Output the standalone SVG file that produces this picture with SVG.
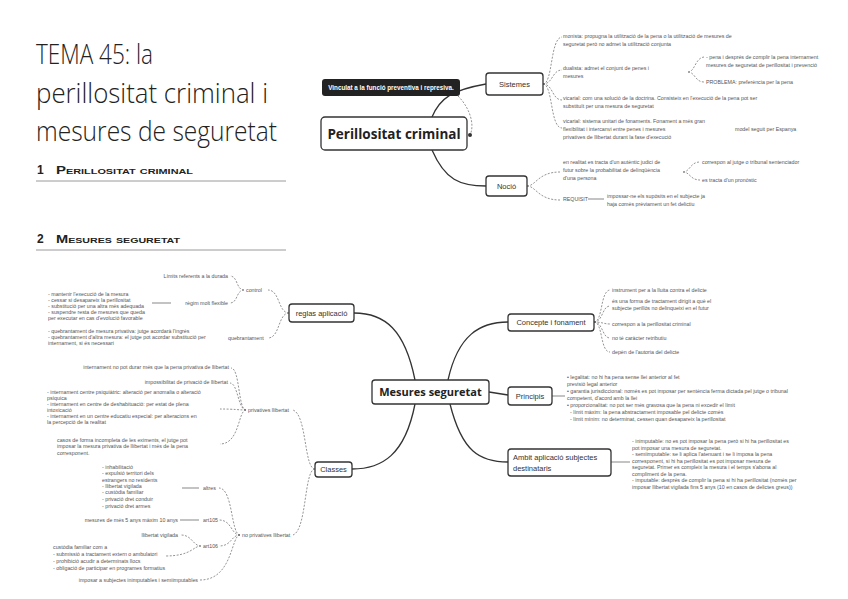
<svg xmlns="http://www.w3.org/2000/svg" width="848" height="599" viewBox="0 0 848 599">
<style>
.bg{fill:#fff}
.ti{font-family:"Open Sans","Liberation Sans",sans-serif;font-weight:300;font-size:28px;fill:#222}
.hd{font-family:"Liberation Sans",Arial,sans-serif;font-weight:bold;font-size:11px;fill:#222;font-variant:small-caps}
.hn{font-family:"Liberation Sans",Arial,sans-serif;font-weight:bold;font-size:12px;fill:#222}
.rule{stroke:#9a9a9a;stroke-width:1}
.t{font-family:"Liberation Sans",Arial,sans-serif;font-size:5.3px;fill:#555}
.box{fill:#fff;stroke:#333;stroke-width:1.3}
.lbl{font-family:"Liberation Sans",Arial,sans-serif;font-size:7.5px;fill:#333}
.main{font-family:"Open Sans","Liberation Sans",sans-serif;font-weight:bold;fill:#222}
.c{fill:none;stroke:#333;stroke-width:1.3}
.s{fill:none;stroke:#555;stroke-width:0.7}
.d{fill:none;stroke:#666;stroke-width:0.7;stroke-dasharray:2 1.5}
</style>
<rect class="bg" x="0" y="0" width="848" height="599"/>

<g id="title">
<text class="ti" x="36" y="64" textLength="117" lengthAdjust="spacingAndGlyphs">TEMA 45: la</text>
<text class="ti" x="36" y="103" textLength="232" lengthAdjust="spacingAndGlyphs">perillositat criminal i</text>
<text class="ti" x="36" y="141" textLength="241" lengthAdjust="spacingAndGlyphs">mesures de seguretat</text>
<text class="hn" x="37" y="174">1</text>
<text class="hd" x="56" y="174" textLength="137" lengthAdjust="spacingAndGlyphs">Perillositat criminal</text>
<line class="rule" x1="36" y1="181" x2="286" y2="181"/>
<text class="hn" x="37" y="243">2</text>
<text class="hd" x="56" y="243" textLength="124" lengthAdjust="spacingAndGlyphs">Mesures seguretat</text>
<line class="rule" x1="36" y1="250" x2="286" y2="250"/>
</g>

<g id="connectors">
<!-- top map -->
<path class="c" d="M432,117 C440,98 452,90 486,84"/>
<path class="c" d="M432,150 C445,180 460,186 486,186"/>
<path class="d" d="M458,96 C470,108 475,125 470,135"/>
<path class="d" d="M543,84 C553,84 550,38 562,37"/>
<path class="d" d="M543,84 C553,84 552,70 562,70"/>
<path class="d" d="M543,84 C553,84 552,100 562,100"/>
<path class="d" d="M543,84 C553,84 550,128 562,128"/>
<path class="d" d="M688,72 C695,72 695,58 704,57"/>
<path class="d" d="M688,72 C695,72 695,82 704,82"/>
<path class="d" d="M527,186 C536,186 538,172 560,172"/>
<path class="d" d="M527,186 C536,186 538,200 560,200"/>
<path class="d" d="M683,172 C690,172 690,162 700,162"/>
<path class="d" d="M683,172 C690,172 690,180 700,180"/>
<line class="s" x1="588" y1="199" x2="604" y2="199"/>
<!-- bottom map -->
<path class="c" d="M415,380 C405,330 385,313 354,313"/>
<path class="c" d="M448,380 C458,335 480,322 508,322"/>
<path class="c" d="M489,392 L508,395"/>
<path class="c" d="M450,404 C462,452 480,462 508,462"/>
<path class="c" d="M415,404 C405,455 382,469 352,469"/>
<path class="d" d="M594,322 C603,322 600,291 610,290"/>
<path class="d" d="M594,322 C603,322 602,306 610,306"/>
<path class="d" d="M594,322 C602,322 604,324 610,324"/>
<path class="d" d="M594,322 C603,322 602,338 610,338"/>
<path class="d" d="M594,322 C603,322 600,352 610,352"/>
<line class="s" x1="552" y1="396" x2="565" y2="396"/>
<line class="s" x1="611" y1="462" x2="630" y2="462"/>
<!-- regles -->
<path class="d" d="M289,313 C278,313 280,290 268,290"/>
<path class="d" d="M289,313 C278,313 280,338 268,338"/>
<path class="d" d="M244,290 C236,290 238,276 230,276"/>
<path class="d" d="M244,290 C236,290 238,303 230,303"/>
<line class="s" x1="152" y1="303" x2="171" y2="303"/>
<!-- classes -->
<path class="d" d="M315,469 C304,469 307,415 293,410"/>
<path class="d" d="M315,469 C304,469 307,530 293,535"/>
<path class="d" d="M246,410 C238,410 240,368 231,368"/>
<path class="d" d="M246,410 C238,410 238,383 230,383"/>
<path class="d" d="M246,410 C238,410 235,409 220,409"/>
<path class="d" d="M246,410 C238,410 240,444 220,444"/>
<path class="d" d="M240,535 C231,535 233,488 219,488"/>
<path class="d" d="M240,535 C231,535 232,520 219,520"/>
<path class="d" d="M240,535 C231,535 232,546 219,546"/>
<path class="d" d="M240,535 C231,535 233,580 200,580"/>
<line class="s" x1="182" y1="488" x2="199" y2="488"/>
<line class="s" x1="180" y1="520" x2="199" y2="520"/>
<path class="d" d="M201,546 C193,546 192,535 181,535"/>
<path class="d" d="M201,546 C193,546 192,556 165,556"/>
</g>

<g id="n-vinculat">
<rect x="322" y="79" width="138" height="17" rx="3" fill="#222"/>
<text x="391" y="90" text-anchor="middle" font-family="Liberation Sans,Arial,sans-serif" font-size="6.3" font-weight="bold" fill="#fff">Vinculat a la funció preventiva i represiva.</text>
</g>
<g id="n-perillositat">
<rect class="box" x="321" y="117" width="146" height="33" rx="4"/>
<text class="main" x="394" y="139" text-anchor="middle" font-size="13.5">Perillositat criminal</text>
<circle cx="470" cy="135" r="2" fill="#333"/>
</g>
<g id="n-sistemes">
<rect class="box" x="486" y="73" width="57" height="22" rx="3"/>
<text class="lbl" x="514.5" y="87" text-anchor="middle">Sistemes</text>
</g>
<g id="n-sistemes-texts">
<text class="t" x="563" y="38">monista: propugna la utilització de la pena o la utilització de mesures de</text>
<text class="t" x="563" y="46">seguretat però no admet la utilització conjunta</text>
<text class="t" x="563" y="70">dualista: admet el conjunt de penes i</text>
<text class="t" x="563" y="78">mesures</text>
<text class="t" x="706" y="59">- pena i després de complir la pena internament</text>
<text class="t" x="706" y="67">mesures de seguretat de perillositat i prevenció</text>
<text class="t" x="706" y="84">PROBLEMA: preferència per la pena</text>
<text class="t" x="563" y="100">vicarial: com una solució de la doctrina. Consisteix en l'execució de la pena pot ser</text>
<text class="t" x="563" y="108">substituït per una mesura de seguretat</text>
<text class="t" x="563" y="123">vicarial: sistema unitari de fonaments. Fonament a més gran</text>
<text class="t" x="563" y="131">flexibilitat i intercanvi entre penes i mesures</text>
<text class="t" x="563" y="139">privatives de llibertat durant la fase d'execució</text>
<text class="t" x="735" y="131">model seguit per Espanya</text>
</g>
<g id="n-nocio">
<rect class="box" x="486" y="176" width="41" height="20" rx="3"/>
<text class="lbl" x="506.5" y="189" text-anchor="middle">Noció</text>
</g>
<g id="n-nocio-texts">
<text class="t" x="563" y="164">en realitat es tracta d'un autèntic judici de</text>
<text class="t" x="563" y="172">futur sobre la probabilitat de delinqüència</text>
<text class="t" x="563" y="180">d'una persona</text>
<text class="t" x="702" y="164">correspon al jutge o tribunal sentenciador</text>
<text class="t" x="702" y="182">es tracta d'un pronòstic</text>
<text class="t" x="563" y="201">REQUISIT</text>
<text class="t" x="607" y="198" font-size="6.5">impossar-ne els supòsits en el subjecte ja</text>
<text class="t" x="607" y="206" font-size="4.5">haja comès prèviament un fet delictiu</text>
</g>

<g id="n-mesures">
<rect class="box" x="372" y="380" width="117" height="24" rx="3"/>
<text class="main" x="430.5" y="396" text-anchor="middle" font-size="11">Mesures seguretat</text>
</g>
<g id="n-regles">
<rect class="box" x="289" y="304" width="65" height="18" rx="3"/>
<text class="lbl" x="321.5" y="316" text-anchor="middle">reglas aplicació</text>
</g>
<g id="n-regles-texts">
<text class="t" x="228" y="278" text-anchor="end">Límits referents a la durada</text>
<text class="t" x="246" y="292">control</text>
<text class="t" x="228" y="305" text-anchor="end">règim molt flexible</text>
<text class="t" x="48" y="296">- mantenir l'execució de la mesura</text>
<text class="t" x="48" y="302">- cessar si desapareix la perillositat</text>
<text class="t" x="48" y="308">- substitució per una altra més adequada</text>
<text class="t" x="48" y="314">- suspendre resta de mesures que queda</text>
<text class="t" x="48" y="320">per executar en cas d'evolució favorable</text>
<text class="t" x="228" y="340">quebrantament</text>
<text class="t" x="48" y="333">- quebrantament de mesura privativa: jutge acordarà l'ingrés</text>
<text class="t" x="48" y="339">- quebrantament d'altra mesura: el jutge pot acordar substitució per</text>
<text class="t" x="48" y="345">internament, si és necessari</text>
</g>
<g id="n-concepte">
<rect class="box" x="508" y="314" width="86" height="17" rx="3"/>
<text class="lbl" x="551" y="325" text-anchor="middle">Concepte i fonament</text>
</g>
<g id="n-concepte-texts">
<text class="t" x="612" y="292">instrument per a la lluita contra el delicte</text>
<text class="t" x="612" y="303">és una forma de tractament dirigit a què el</text>
<text class="t" x="612" y="310">subjecte perillós no delinqueixi en el futur</text>
<text class="t" x="612" y="326">correspon a la perillositat criminal</text>
<text class="t" x="612" y="340">no té caràcter retributiu</text>
<text class="t" x="612" y="354">depèn de l'autoria del delicte</text>
</g>
<g id="n-principis">
<rect class="box" x="508" y="387" width="44" height="18" rx="3"/>
<text class="lbl" x="530" y="399" text-anchor="middle">Principis</text>
</g>
<g id="n-principis-texts">
<text class="t" x="567" y="379">• legalitat: no hi ha pena sense llei anterior al fet</text>
<text class="t" x="567" y="386">previsió legal anterior</text>
<text class="t" x="567" y="393">• garantia jurisdiccional: només es pot imposar per sentència ferma dictada pel jutge o tribunal</text>
<text class="t" x="567" y="400">competent, d'acord amb la llei</text>
<text class="t" x="567" y="407">• proporcionalitat: no pot ser més gravosa que la pena ni excedir el límit</text>
<text class="t" x="570" y="414">- límit màxim: la pena abstractament imposable pel delicte comès</text>
<text class="t" x="570" y="421">- límit mínim: no determinat, cessen quan desapareix la perillositat</text>
</g>
<g id="n-ambit">
<rect class="box" x="508" y="449" width="103" height="27" rx="3"/>
<text class="lbl" x="513" y="460" font-size="8.5">Ambit aplicació subjectes</text>
<text class="lbl" x="513" y="471" font-size="8.5">destinataris</text>
</g>
<g id="n-ambit-texts">
<text class="t" x="632" y="443">- inimputable: no es pot imposar la pena però si hi ha perillositat es</text>
<text class="t" x="632" y="449.5">pot imposar una mesura de seguretat.</text>
<text class="t" x="632" y="456">- semiimputable: se li aplica l'atenuant i se li imposa la pena</text>
<text class="t" x="632" y="462.5">corresponent, si hi ha perillositat es pot imposar mesura de</text>
<text class="t" x="632" y="469">seguretat. Primer es compleix la mesura i el temps s'abona al</text>
<text class="t" x="632" y="475.5">compliment de la pena.</text>
<text class="t" x="632" y="482">- imputable: després de complir la pena si hi ha perillositat (només per</text>
<text class="t" x="632" y="488.5">imposar llibertat vigilada fins 5 anys (10 en casos de delictes greus))</text>
</g>
<g id="n-classes">
<rect class="box" x="315" y="462" width="37" height="15" rx="3"/>
<text class="lbl" x="333.5" y="472" text-anchor="middle">Classes</text>
</g>
<g id="n-privatives">
<text class="t" x="248" y="412">privatives llibertat</text>
<text class="t" x="229" y="369" text-anchor="end">internament no pot durar més que la pena privativa de llibertat</text>
<text class="t" x="228" y="384" text-anchor="end">impossibilitat de privació de llibertat</text>
<text class="t" x="47" y="394">- internament centre psiquiàtric: alteració per anomalia o alteració</text>
<text class="t" x="47" y="400">psíquica</text>
<text class="t" x="47" y="406">- internament en centre de deshabituació: per estat de plena</text>
<text class="t" x="47" y="412">intoxicació</text>
<text class="t" x="47" y="418">- internament en un centre educatiu especial: per alteracions en</text>
<text class="t" x="47" y="424">la percepció de la realitat</text>
<text class="t" x="57" y="442">casos de forma incompleta de les eximents, el jutge pot</text>
<text class="t" x="57" y="448">imposar la mesura privativa de llibertat i més de la pena</text>
<text class="t" x="57" y="455">corresponent.</text>
</g>
<g id="n-noprivatives">
<text class="t" x="242" y="537">no privatives llibertat</text>
<text class="t" x="203" y="490">altres</text>
<text class="t" x="102" y="469">- inhabilitació</text>
<text class="t" x="102" y="475">- expulsió territori dels</text>
<text class="t" x="102" y="482">estrangers no residents</text>
<text class="t" x="102" y="488">- llibertat vigilada</text>
<text class="t" x="102" y="494">- custòdia familiar</text>
<text class="t" x="102" y="501">- privació dret conduir</text>
<text class="t" x="102" y="508">- privació dret armes</text>
<text class="t" x="203" y="522">art105</text>
<text class="t" x="178" y="522" text-anchor="end">mesures de més 5 anys màxim 10 anys</text>
<text class="t" x="203" y="548">art106</text>
<text class="t" x="178" y="537" text-anchor="end">llibertat vigilada</text>
<text class="t" x="53" y="549">custòdia familiar com a</text>
<text class="t" x="53" y="556">- submissió a tractament extern o ambulatori</text>
<text class="t" x="53" y="563">- prohibició acudir a determinats llocs</text>
<text class="t" x="53" y="570">- obligació de participar en programes formatius</text>
<text class="t" x="198" y="582" text-anchor="end">imposar a subjectes inimputables i semiimputables</text>
</g>
</svg>
